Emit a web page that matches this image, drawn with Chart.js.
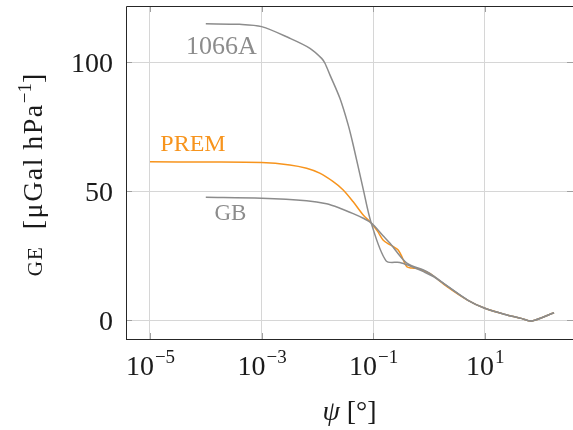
<!DOCTYPE html>
<html>
<head>
<meta charset="utf-8">
<script src="https://cdn.jsdelivr.net/npm/chart.js@4.4.0/dist/chart.umd.min.js"></script>
<style>
  html, body { margin: 0; padding: 0; background: #fff; overflow: hidden; }
</style>
</head>
<body>
<canvas id="myChart" width="573" height="430"></canvas>
<script>
// psi [deg] vs gravimetric admittance GE [uGal/hPa]
const psi1066A = [1e-4, 4e-4, 1e-3, 3.2e-3, 7.35e-3, 0.0119, 0.01365, 0.01675, 0.0253, 0.0356, 0.0438, 0.066, 0.092, 0.17, 0.3, 0.45, 0.8, 1.2, 2.4, 5, 10, 25, 45, 70, 174];
const ge1066A  = [115, 114.8, 113.9, 109.4, 105.5, 101.6, 99.7, 95.2, 86.1, 75.8, 68, 51, 37.8, 23.1, 22.5, 21.2, 18.9, 17, 12.5, 7.8, 4.7, 2.1, 0.8, -0.2, 3.0];

const psiPREM = [1e-5, 1e-4, 1e-3, 3.2e-3, 6.4e-3, 0.011, 0.0192, 0.029, 0.0438, 0.0662, 0.092, 0.12, 0.15, 0.19, 0.23, 0.28, 0.33, 0.4, 0.5, 0.65, 0.8, 1.05, 2.1, 4.8, 10, 25, 45, 70, 174];
const gePREM  = [61.5, 61.4, 61.2, 60.3, 59, 57.1, 53.8, 50.6, 46, 40.9, 37.8, 34.5, 31.2, 29.6, 28.6, 27.3, 24.5, 20.8, 20.3, 20.0, 19.2, 18.1, 13.1, 8, 4.7, 2.1, 0.8, -0.2, 3.0];

const psiGB = [1e-4, 1e-3, 6.4e-3, 0.0146, 0.0253, 0.0438, 0.065, 0.092, 0.15, 0.2, 0.4, 0.92, 2.4, 5, 10, 25, 45, 70, 174];
const geGB  = [47.8, 47.4, 46.4, 45.2, 43.5, 41.4, 39.7, 37.8, 32.8, 29.9, 22.2, 18.9, 12.5, 7.8, 4.7, 2.1, 0.8, -0.2, 3.0];

const xTickValues = [1e-5, 1e-3, 1e-1, 1e1];
const xTickExps = ['\u22125', '\u22123', '\u22121', '1'];
const yTickValues = [0, 50, 100];

const GREY = '#8c8c8c';
const ORANGE = '#f7941d';
const SERIF = '"Liberation Serif", "DejaVu Serif", serif';

// curve labels, placed in data coordinates
const curveLabels = [
  { text: '1066A', x: Math.pow(10, -3.72), y: 106, color: GREY, size: 26 },
  { text: 'PREM', x: Math.pow(10, -4.23), y: 68, color: ORANGE, size: 24 },
  { text: 'GB', x: Math.pow(10, -3.56), y: 41.3, color: GREY, size: 23 }
];

function pts(xs, ys) {
  return xs.map((x, i) => ({ x: x, y: ys[i] }));
}

const decor = {
  id: 'decor',
  beforeDatasetsDraw(chart) {
    const { ctx, chartArea: a, scales } = chart;
    ctx.save();
    ctx.strokeStyle = '#a0a0a0';
    ctx.lineWidth = 1;
    ctx.beginPath();
    xTickValues.forEach(v => {
      const px = Math.round(scales.x.getPixelForValue(v)) + 0.5;
      ctx.moveTo(px, a.bottom); ctx.lineTo(px, a.bottom - 6);
      ctx.moveTo(px, a.top); ctx.lineTo(px, a.top + 6);
    });
    yTickValues.forEach(v => {
      const py = Math.round(scales.y.getPixelForValue(v)) + 0.5;
      ctx.moveTo(a.left, py); ctx.lineTo(a.left + 6, py);
      ctx.moveTo(a.right, py); ctx.lineTo(a.right - 6, py);
    });
    ctx.stroke();
    ctx.restore();
  },
  afterDraw(chart) {
    const { ctx, chartArea: a, scales } = chart;
    ctx.save();
    // frame
    ctx.strokeStyle = '#262626';
    ctx.lineWidth = 1;
    ctx.beginPath();
    ctx.moveTo(a.left + 0.5, a.bottom + 0.5);
    ctx.lineTo(a.left + 0.5, a.top + 0.5);
    ctx.lineTo(a.right, a.top + 0.5);
    ctx.moveTo(a.left, a.bottom + 0.5);
    ctx.lineTo(a.right, a.bottom + 0.5);
    ctx.stroke();

    ctx.fillStyle = '#1a1a1a';
    ctx.textBaseline = 'alphabetic';
    // x tick labels: 10^n
    xTickValues.forEach((v, i) => {
      const px = scales.x.getPixelForValue(v);
      ctx.font = '28px ' + SERIF;
      const wb = ctx.measureText('10').width;
      ctx.font = '19px ' + SERIF;
      const we = ctx.measureText(xTickExps[i]).width;
      const x0 = px - (wb + we) / 2;
      ctx.font = '28px ' + SERIF;
      ctx.textAlign = 'left';
      ctx.fillText('10', x0, a.bottom + 36);
      ctx.font = '19px ' + SERIF;
      ctx.fillText(xTickExps[i], x0 + wb + 1, a.bottom + 24);
    });
    // y tick labels
    ctx.font = '28px ' + SERIF;
    ctx.textAlign = 'right';
    yTickValues.forEach(v => {
      const py = scales.y.getPixelForValue(v);
      ctx.fillText(String(v), a.left - 13, py + 10);
    });

    // x title
    const xc = (a.left + a.right) / 2;
    ctx.font = 'italic 28px ' + SERIF;
    const wpsi = ctx.measureText('\u03c8').width;
    ctx.font = '28px ' + SERIF;
    const wrest = ctx.measureText(' [\u00b0]').width;
    let xs = xc - (wpsi + wrest) / 2;
    ctx.textAlign = 'left';
    ctx.font = 'italic 28px ' + SERIF;
    ctx.fillText('\u03c8', xs, 420);
    ctx.font = '28px ' + SERIF;
    ctx.fillText(' [\u00b0]', xs + wpsi, 420);

    // y title (rotated)
    const parts = [
      { t: 'GE', f: '21px ' + SERIF, dy: 0, ls: '1px' },
      { t: '  [\u03bcGal\u2009hPa', f: '28px ' + SERIF, dy: 0, ls: '1.5px' },
      { t: '\u22121', f: '19px ' + SERIF, dy: -11, ls: '0px' },
      { t: ']', f: '28px ' + SERIF, dy: 0, ls: '0px' }
    ];
    let total = 0;
    parts.forEach(p => {
      ctx.font = p.f; ctx.letterSpacing = p.ls;
      p.w = ctx.measureText(p.t).width; total += p.w;
    });
    ctx.translate(42, 175);
    ctx.rotate(-Math.PI / 2);
    let cx = -total / 2;
    parts.forEach(p => {
      ctx.font = p.f; ctx.letterSpacing = p.ls;
      ctx.fillText(p.t, cx, p.dy);
      cx += p.w;
    });
    ctx.restore();

    // curve labels
    ctx.save();
    ctx.textAlign = 'center';
    ctx.textBaseline = 'middle';
    curveLabels.forEach(l => {
      ctx.fillStyle = l.color;
      ctx.font = l.size + 'px ' + SERIF;
      ctx.fillText(l.text, scales.x.getPixelForValue(l.x), scales.y.getPixelForValue(l.y));
    });
    ctx.restore();
  }
};

const ctx = document.getElementById('myChart').getContext('2d');
const myChart = new Chart(ctx, {
  type: 'line',
  data: {
    datasets: [
      { label: '1066A', data: pts(psi1066A, ge1066A), borderColor: GREY },
      { label: 'GB', data: pts(psiGB, geGB), borderColor: GREY },
      { label: 'PREM', data: pts(psiPREM, gePREM), borderColor: ORANGE }
    ].map(d => Object.assign(d, {
      borderWidth: 1.5,
      pointRadius: 0,
      fill: false,
      tension: 0.3
    }))
  },
  options: {
    responsive: false,
    animation: false,
    layout: { padding: { top: 6, right: 0, bottom: 0, left: 0 } },
    plugins: { legend: { display: false }, tooltip: { enabled: false } },
    scales: {
      x: {
        type: 'logarithmic',
        min: Math.pow(10, -5.43),
        max: Math.pow(10, 2.58),
        afterBuildTicks: s => { s.ticks = xTickValues.map(v => ({ value: v })); },
        afterFit: s => { s.height = 91; },
        ticks: { display: false },
        grid: { color: '#d6d6d6', drawTicks: false },
        border: { display: false }
      },
      y: {
        type: 'linear',
        min: -7.2,
        max: 121.9,
        afterBuildTicks: s => { s.ticks = yTickValues.map(v => ({ value: v })); },
        afterFit: s => { s.width = 126; },
        ticks: { display: false },
        grid: { color: '#d6d6d6', drawTicks: false },
        border: { display: false }
      }
    }
  },
  plugins: [decor]
});
</script>
</body>
</html>
